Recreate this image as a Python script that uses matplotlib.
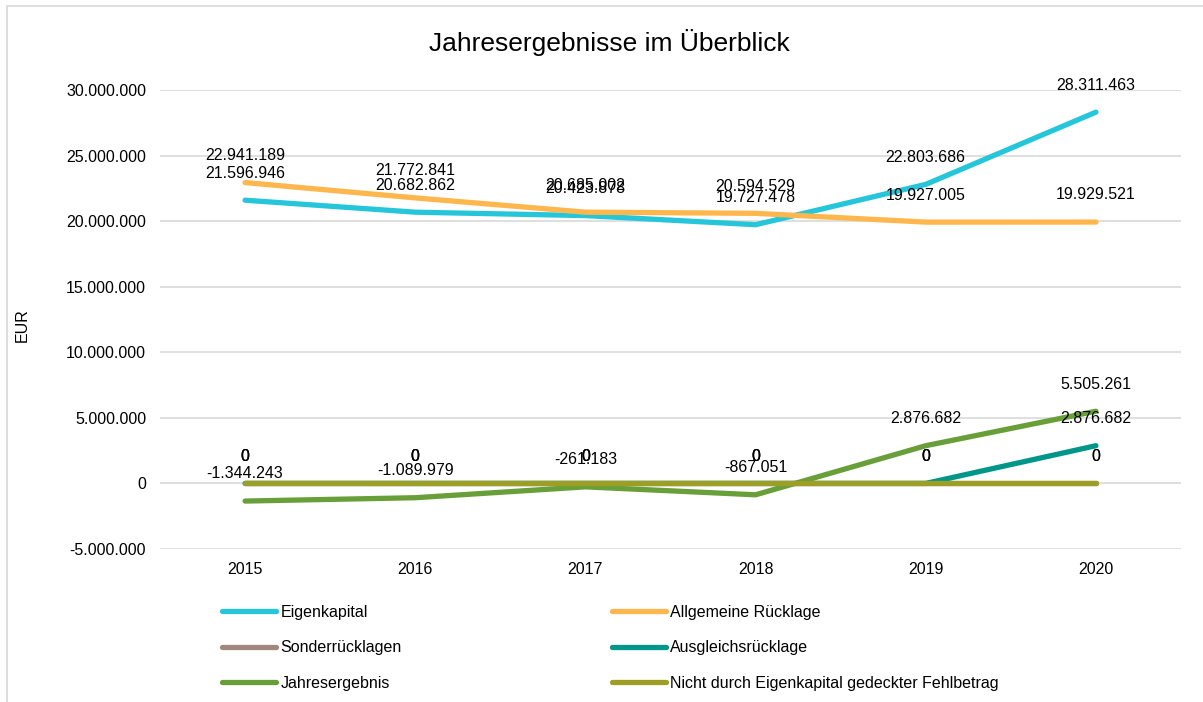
import matplotlib
matplotlib.use("Agg")
import matplotlib.pyplot as plt
from matplotlib.patches import Rectangle
from matplotlib.ticker import FuncFormatter

plt.rcParams['font.family'] = ['Liberation Sans', 'DejaVu Sans']

years = ["2015", "2016", "2017", "2018", "2019", "2020"]
eigenkapital = [21596946, 20682862, 20423878, 19727478, 22803686, 28311463]
allgemeine_ruecklage = [22941189, 21772841, 20685002, 20594529, 19927005, 19929521]
sonderruecklagen = [0, 0, 0, 0, 0, 0]
ausgleichsruecklage = [0, 0, 0, 0, 0, 2876682]
jahresergebnis = [-1344243, -1089979, -261183, -867051, 2876682, 5505261]
fehlbetrag = [0, 0, 0, 0, 0, 0]

series_names = ["Eigenkapital", "Allgemeine Rücklage", "Sonderrücklagen",
                "Ausgleichsrücklage", "Jahresergebnis",
                "Nicht durch Eigenkapital gedeckter Fehlbetrag"]
series_values = [eigenkapital, allgemeine_ruecklage, sonderruecklagen,
                 ausgleichsruecklage, jahresergebnis, fehlbetrag]
colors = ["#26C6DA", "#FFB74D", "#A1887F", "#00968A", "#689F38", "#9E9D24"]

FS = 11.5

def fmt(v):
    s = f"{abs(int(v)):,}".replace(",", ".")
    return ("-" if v < 0 else "") + s

W, H = 1203, 702
fig = plt.figure(figsize=(W / 100, H / 100), dpi=100)
ax = fig.add_axes([160 / W, 1 - 549 / H, (1181 - 160) / W, (549 - 90) / H])

x = list(range(len(years)))
handles = []
for name, vals, c in zip(series_names, series_values, colors):
    h, = ax.plot(x, vals, color=c, lw=3.8, solid_capstyle='round',
                 solid_joinstyle='round', label=name, zorder=3)
    handles.append(h)

for vals in series_values:
    for xi, v in zip(x, vals):
        ax.annotate(fmt(v), (xi, v), xytext=(0, 19.5), textcoords='offset points',
                    ha='center', va='center', fontsize=FS, color='#000000',
                    zorder=5)

ax.set_xlim(-0.5, len(years) - 0.5)
ax.set_ylim(-5000000, 30000000)
ax.set_yticks(range(-5000000, 30000001, 5000000))
ax.yaxis.set_major_formatter(FuncFormatter(lambda v, p: fmt(v)))
ax.set_xticks(x)
ax.set_xticklabels(years)
ax.tick_params(axis='both', length=0, labelsize=FS, colors='#000000')
ax.tick_params(axis='y', pad=10)
ax.tick_params(axis='x', pad=9)
ax.grid(axis='y', color='#D9D9D9', lw=1.2, zorder=0)
ax.set_axisbelow(True)
for sp in ax.spines.values():
    sp.set_visible(False)

fig.text(609 / W, 1 - 42 / H, "Jahresergebnisse im Überblick", ha='center',
         va='center', fontsize=19, color='#000000')
fig.text(22 / W, 1 - 325 / H, "EUR", rotation=90, ha='center', va='center',
         fontsize=FS, color='#000000')

leg_kw = dict(frameon=False, loc='upper left', fontsize=FS, handlelength=3.4,
              handletextpad=0.25, labelspacing=1.27, borderpad=0, borderaxespad=0)
leg1 = fig.legend([handles[0], handles[2], handles[4]],
                  [series_names[0], series_names[2], series_names[4]],
                  bbox_to_anchor=(222 / W, 1 - 605 / H), **leg_kw)
leg2 = fig.legend([handles[1], handles[3], handles[5]],
                  [series_names[1], series_names[3], series_names[5]],
                  bbox_to_anchor=(612 / W, 1 - 605 / H), **leg_kw)
for leg in (leg1, leg2):
    for ln in leg.get_lines():
        ln.set_linewidth(3.8)
        ln.set_solid_capstyle('round')

fig.patches.append(Rectangle((7 / W, -0.02), 1.05, 1 - 6 / H + 0.02,
                             transform=fig.transFigure, fill=False,
                             edgecolor='#D9D9D9', lw=1.2))

fig.savefig("out.png", dpi=100)
